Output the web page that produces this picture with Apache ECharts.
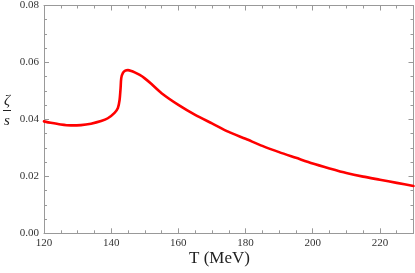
<!DOCTYPE html>
<html>
<head>
<meta charset="utf-8">
<script src="https://cdn.jsdelivr.net/npm/echarts@6/dist/echarts.min.js"></script>
<style>html,body{margin:0;padding:0;background:#fff}#c{width:415px;height:273px}</style>
</head>
<body>
<div id="c"></div>
<script>
// Temperature (MeV)
var temps = [120, 122, 125, 128, 131, 134, 137, 139, 141, 142, 142.5, 142.8, 143.0, 143.5, 144.2, 145, 146, 147, 148.5, 150, 152, 155, 160, 165, 170, 175, 180, 185, 190, 195, 200, 205, 210, 215, 220, 225, 230];
// zeta/s
var zetaOverS = [0.0393, 0.0388, 0.0382, 0.0379, 0.0380, 0.0385, 0.0394, 0.0404, 0.0423, 0.0440, 0.0468, 0.0510, 0.0545, 0.0563, 0.0571, 0.0573, 0.0570, 0.0565, 0.0556, 0.0544, 0.0524, 0.0492, 0.0451, 0.0416, 0.0386, 0.0356, 0.0332, 0.0307, 0.0285, 0.0265, 0.0245, 0.0228, 0.0212, 0.0199, 0.0188, 0.0177, 0.0166];
var xMin = 120, xMax = 230, xMajor = 20, xMinor = 5;
var yMin = 0, yMax = 0.08, yMajor = 0.02, yMinor = 0.005;

var axisCol = '#999999';
var labelFont = {fontFamily: 'Liberation Serif', fontSize: 11, color: '#333'};

function xAx(pos, interval, len, showLabel, showLine) {
  return {
    type: 'value', position: pos, min: xMin, max: xMax, interval: interval,
    axisLine: {show: showLine, onZero: false, lineStyle: {color: axisCol, width: 1}},
    axisTick: {show: true, inside: true, length: len, lineStyle: {color: axisCol}},
    axisLabel: Object.assign({show: showLabel, margin: 4, showMaxLabel: false}, labelFont),
    splitLine: {show: false}
  };
}
function yAx(pos, interval, len, showLabel, showLine) {
  return {
    type: 'value', position: pos, min: yMin, max: yMax, interval: interval,
    axisLine: {show: showLine, onZero: false, lineStyle: {color: axisCol, width: 1}},
    axisTick: {show: true, inside: true, length: len, lineStyle: {color: axisCol}},
    axisLabel: Object.assign({show: showLabel, margin: 5, formatter: function (v) { return v.toFixed(2); }}, labelFont),
    splitLine: {show: false}
  };
}

var chart = echarts.init(document.getElementById('c'), null, {renderer: 'canvas'});
chart.setOption({
  animation: false,
  backgroundColor: '#fff',
  grid: {left: 44, right: 1.5, top: 4.5, bottom: 39.7, containLabel: false},
  xAxis: [
    xAx('bottom', xMajor, 5, true, true),
    xAx('top', xMajor, 5, false, true),
    xAx('bottom', xMinor, 3, false, false),
    xAx('top', xMinor, 3, false, false)
  ],
  yAxis: [
    yAx('left', yMajor, 5, true, true),
    yAx('right', yMajor, 5, false, true),
    yAx('left', yMinor, 3, false, false),
    yAx('right', yMinor, 3, false, false)
  ],
  graphic: [
    {type: 'text', left: 222 - 33, top: 250, style: {text: 'T (MeV)', font: '17px "Liberation Serif"', fill: '#222'}},
    {type: 'text', x: 7, y: 101, style: {text: 'ζ', font: 'italic 15px "Liberation Serif"', fill: '#222', align: 'center', verticalAlign: 'middle'}},
    {type: 'line', shape: {x1: 3, y1: 110.5, x2: 11, y2: 110.5}, style: {stroke: '#222', lineWidth: 1}},
    {type: 'text', x: 7, y: 121, style: {text: 's', font: 'italic 15px "Liberation Serif"', fill: '#222', align: 'center', verticalAlign: 'middle'}}
  ],
  series: [{
    type: 'line',
    xAxisIndex: 0, yAxisIndex: 0,
    data: temps.map(function (t, i) { return [t, zetaOverS[i]]; }),
    showSymbol: false,
    smooth: 0.25,
    lineStyle: {color: '#ff0000', width: 2.6, join: 'round', cap: 'round'},
    silent: true
  }]
});
</script>
</body>
</html>
